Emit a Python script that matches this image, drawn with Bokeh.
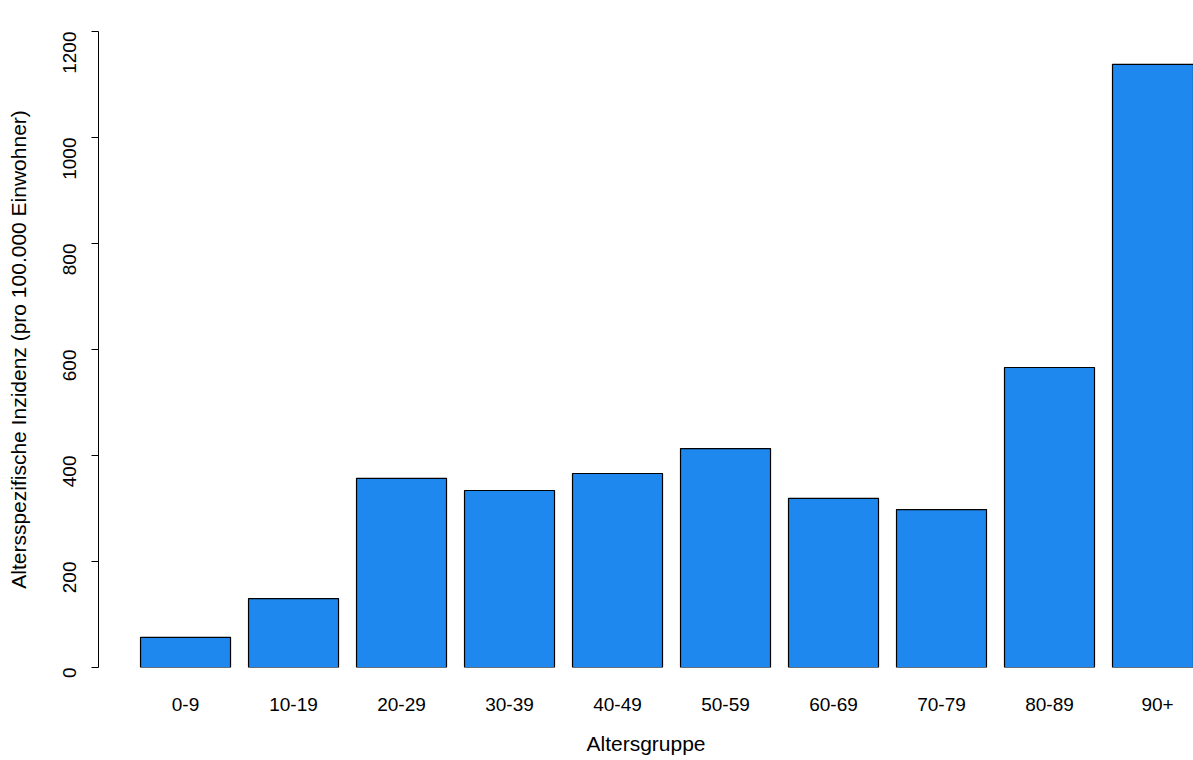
import math
from bokeh.plotting import figure
from bokeh.models import FixedTicker, ColumnDataSource
from bokeh.embed import file_html
from bokeh.resources import INLINE

groups = ["0-9","10-19","20-29","30-39","40-49","50-59","60-69","70-79","80-89","90+"]
values = [57, 130, 357, 334, 366, 413, 319, 298, 566, 1138]
centers = [0.7 + 1.2*i for i in range(len(groups))]

src = ColumnDataSource(dict(x=centers, top=values))
p = figure(width=1193, height=760, output_backend="svg", toolbar_location=None,
           x_range=(-0.267, 11.9), y_range=(0, 1200),
           min_border_left=98, min_border_right=0, min_border_top=31, min_border_bottom=93)
p.vbar(x="x", top="top", width=1.0, bottom=0, source=src,
       fill_color="#1E88EE", line_color="black", line_width=1.2)
p.xgrid.visible = False
p.ygrid.visible = False
p.outline_line_color = None
font = "Liberation Sans"
xa = p.xaxis[0]
xa.ticker = FixedTicker(ticks=centers)
xa.major_label_overrides = {c: g for c, g in zip(centers, groups)}
xa.axis_line_color = None
xa.major_tick_line_color = None
xa.minor_tick_line_color = None
xa.major_label_standoff = 24
xa.axis_label = "Altersgruppe"
xa.axis_label_standoff = 18
ya = p.yaxis[0]
ya.ticker = FixedTicker(ticks=[0,200,400,600,800,1000,1200])
ya.major_label_orientation = math.pi/2
ya.major_tick_out = 7
ya.major_tick_in = 0
ya.minor_tick_line_color = None
ya.major_label_standoff = 22
ya.axis_label = "Altersspezifische Inzidenz (pro 100.000 Einwohner)"
ya.axis_label_standoff = 24
for a in (xa, ya):
    a.major_label_text_font = font
    a.major_label_text_font_size = "19px"
    a.major_label_text_color = "black"
    a.axis_label_text_font = font
    a.axis_label_text_font_size = "21px"
    a.axis_label_text_font_style = "normal"
    a.axis_label_text_color = "black"
ya.axis_line_color = "black"
ya.major_tick_line_color = "black"
open("out.html", "w").write(file_html(p, INLINE))
